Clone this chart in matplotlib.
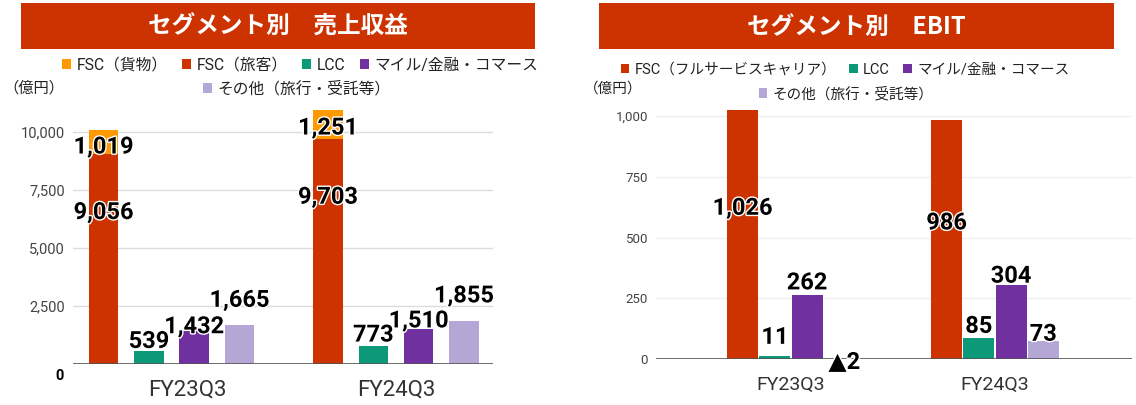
import matplotlib
matplotlib.use("Agg")
import matplotlib.pyplot as plt
import matplotlib.patheffects as pe
from matplotlib.patches import Rectangle
import numpy as np

plt.rcParams['font.family'] = ['Roboto', 'Noto Sans CJK JP', 'DejaVu Sans']

periods = ["FY23Q3", "FY24Q3"]

# セグメント別 売上収益（億円）
rev_cargo = [1019, 1251]
rev_pax = [9056, 9703]
rev_lcc = [539, 773]
rev_mile = [1432, 1510]
rev_other = [1665, 1855]

# セグメント別 EBIT（億円）
ebit_fsc = [1026, 986]
ebit_lcc = [11, 85]
ebit_mile = [262, 304]
ebit_other = [-2, 73]

C_CARGO = "#ff9900"
C_FSC = "#cc3300"
C_LCC = "#0b9977"
C_MILE = "#7030a0"
C_OTHER = "#b4a7d6"
C_BANNER = "#cc3300"

W, H, DPI = 1136, 405, 100
CJK = ['Noto Sans CJK JP', 'DejaVu Sans']
LEG = ['Roboto', 'Noto Sans CJK JP', 'DejaVu Sans']
NUM = ['Roboto', 'DejaVu Sans']


def fx(px):
    return px / W


def fy(py):
    return 1 - py / H


def pt(px):
    return px * 72 / DPI


def fmt(v):
    return f"{v:,}" if v >= 0 else f"▲{-v:,}"


def value_label(ax, x, y, v, dy=0, dx=0, size=17):
    ax.annotate(fmt(v), (x, y), xytext=(pt(dx), pt(dy)), textcoords="offset points",
                ha="center", va="center", fontsize=size, fontweight="bold",
                family=NUM, color="black",
                path_effects=[pe.withStroke(linewidth=2, foreground="white")])


def banner(x0, x1, title):
    fig.add_artist(Rectangle((fx(x0), fy(49)), (x1 - x0) / W, 46 / H,
                             transform=fig.transFigure, color=C_BANNER, lw=0))
    fig.text(fx((x0 + x1) / 2), fy(27), title, ha="center", va="center",
             color="white", fontsize=17, fontweight="bold", family=CJK)


def style_axes(ax, grid_color):
    for s in ax.spines.values():
        s.set_visible(False)
    ax.yaxis.grid(True, color=grid_color, lw=1)
    ax.set_axisbelow(True)
    ax.axhline(0, color="#555555", lw=1.2, zorder=3)
    ax.set_xticks([])


fig = plt.figure(figsize=(W / DPI, H / DPI), dpi=DPI)
x = np.arange(len(periods))

# ---------------- left: revenue ----------------
ax1 = fig.add_axes([fx(73), 41 / H, 420 / W, 255.5 / H])
step, bw = 0.2018, 0.131
xs = [x + k * step for k in (-1.5, -0.5, 0.5, 1.5)]
h_pax = ax1.bar(xs[0], rev_pax, bw, color=C_FSC, label="FSC（旅客）")
h_cargo = ax1.bar(xs[0], rev_cargo, bw, bottom=rev_pax, color=C_CARGO, label="FSC（貨物）")
h_lcc = ax1.bar(xs[1], rev_lcc, bw, color=C_LCC, label="LCC")
h_mile = ax1.bar(xs[2], rev_mile, bw, color=C_MILE, label="マイル/金融・コマース")
h_other = ax1.bar(xs[3], rev_other, bw, color=C_OTHER, label="その他（旅行・受託等）")
ax1.set_xlim(-0.439, 1.432)
ax1.set_ylim(0, 11000)
style_axes(ax1, "#dcdcdc")
ax1.set_yticks([2500, 5000, 7500, 10000])
ax1.set_yticklabels([f"{t:,}" for t in [2500, 5000, 7500, 10000]])
ax1.tick_params(axis="y", length=0, pad=pt(8), labelsize=10.5, labelcolor="#444444")
ax1.annotate("0", (0, 0), xycoords=("axes fraction", "data"), xytext=(pt(-9), pt(-12)),
             textcoords="offset points", ha="right", va="center", fontsize=10.5,
             fontweight="bold", color="black")

pax_frac = [0.72, 0.74]
cargo_frac = [0.28, 0.365]
for i in range(len(periods)):
    value_label(ax1, xs[0][i], rev_pax[i] * pax_frac[i], rev_pax[i])
    value_label(ax1, xs[0][i], rev_pax[i] + rev_cargo[i] * cargo_frac[i], rev_cargo[i])
lcc_up, mile_up, other_up = [10, 11], [4, 8], [25, 25]
for i in range(len(periods)):
    value_label(ax1, xs[1][i], rev_lcc[i], rev_lcc[i], dy=lcc_up[i])
    value_label(ax1, xs[2][i], rev_mile[i], rev_mile[i], dy=mile_up[i])
    value_label(ax1, xs[3][i], rev_other[i], rev_other[i], dy=other_up[i])
lab_dx = [16, 0]
for i, p in enumerate(periods):
    ax1.annotate(p, (x[i], 0), xytext=(pt(lab_dx[i]), pt(-26)), textcoords="offset points",
                 ha="center", va="center", fontsize=16, color="#333333")

banner(21, 535, "セグメント別　売上収益")
fig.legend(handles=[h_cargo, h_pax, h_lcc, h_mile], loc="center",
           bbox_to_anchor=(fx(300), fy(65)), ncol=4, frameon=False,
           prop={"family": LEG, "size": 11.3}, labelcolor="#222222",
           handlelength=0.6, handleheight=0.6, handletextpad=0.35,
           columnspacing=0.9, borderpad=0, borderaxespad=0)
fig.legend(handles=[h_other], loc="center", bbox_to_anchor=(fx(297), fy(89)),
           frameon=False, prop={"family": LEG, "size": 11.3}, labelcolor="#222222",
           handlelength=0.6, handleheight=0.6, handletextpad=0.35,
           borderpad=0, borderaxespad=0)
fig.text(fx(3), fy(88), "（億円）", ha="left", va="center", fontsize=11,
         family=CJK, color="#222222")

# ---------------- right: EBIT ----------------
ax2 = fig.add_axes([fx(656), 46 / H, 476 / W, 255 / H])
step2, bw2 = 0.158, 0.152
xs2 = [x + k * step2 for k in (-1.5, -0.5, 0.5, 1.5)]
g_fsc = ax2.bar(xs2[0], ebit_fsc, bw2, color=C_FSC, label="FSC（フルサービスキャリア）")
g_lcc = ax2.bar(xs2[1], ebit_lcc, bw2, color=C_LCC, label="LCC")
g_mile = ax2.bar(xs2[2], ebit_mile, bw2, color=C_MILE, label="マイル/金融・コマース")
g_other = ax2.bar(xs2[3], ebit_other, bw2, color=C_OTHER, label="その他（旅行・受託等）")
ax2.set_xlim(-0.662, 1.672)
ax2.set_ylim(0, 1050)
style_axes(ax2, "#eeeeee")
ax2.set_yticks([0, 250, 500, 750, 1000])
ax2.set_yticklabels([f"{t:,}" for t in [0, 250, 500, 750, 1000]])
ax2.tick_params(axis="y", length=0, pad=pt(8), labelsize=9.5, labelcolor="#444444")

fsc_frac = [0.605, 0.568]
e_lcc_up, e_mile_up, e_other_up = [19, 12], [12.5, 9], [-3.5, 7]
e_other_dx = [5, 0]
for i in range(len(periods)):
    value_label(ax2, xs2[0][i], ebit_fsc[i] * fsc_frac[i], ebit_fsc[i])
    value_label(ax2, xs2[1][i], ebit_lcc[i], ebit_lcc[i], dy=e_lcc_up[i])
    value_label(ax2, xs2[2][i], ebit_mile[i], ebit_mile[i], dy=e_mile_up[i])
    value_label(ax2, xs2[3][i], max(ebit_other[i], 0), ebit_other[i],
                dy=e_other_up[i], dx=e_other_dx[i])
for i, p in enumerate(periods):
    ax2.annotate(p, (x[i], 0), xytext=(0, pt(-26)), textcoords="offset points",
                 ha="center", va="center", fontsize=14, color="#333333")

banner(599, 1114, "セグメント別　EBIT")
fig.legend(handles=[g_fsc, g_lcc, g_mile], loc="center",
           bbox_to_anchor=(fx(845), fy(70)), ncol=3, frameon=False,
           prop={"family": LEG, "size": 10.5}, labelcolor="#222222",
           handlelength=0.6, handleheight=0.6, handletextpad=0.35,
           columnspacing=0.9, borderpad=0, borderaxespad=0)
fig.legend(handles=[g_other], loc="center", bbox_to_anchor=(fx(846), fy(94)),
           frameon=False, prop={"family": LEG, "size": 10.5}, labelcolor="#222222",
           handlelength=0.6, handleheight=0.6, handletextpad=0.35,
           borderpad=0, borderaxespad=0)
fig.text(fx(584), fy(89), "（億円）", ha="left", va="center", fontsize=10.5,
         family=CJK, color="#222222")

fig.savefig("out.png", dpi=DPI)
